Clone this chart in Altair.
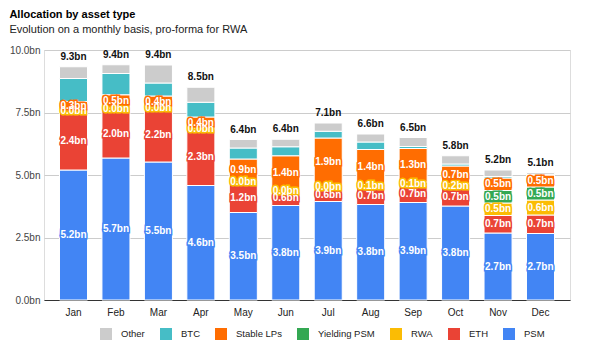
import altair as alt
import pandas as pd

months = ["Jan", "Feb", "Mar", "Apr", "May", "Jun", "Jul", "Aug", "Sep", "Oct", "Nov", "Dec"]

psm = [5.20, 5.68, 5.52, 4.58, 3.50, 3.78, 3.94, 3.82, 3.90, 3.76, 2.68, 2.66]
eth = [2.36, 1.96, 2.16, 2.26, 1.20, 0.58, 0.56, 0.70, 0.70, 0.70, 0.70, 0.74]
rwa = [0.04, 0.04, 0.04, 0.04, 0.04, 0.03, 0.04, 0.10, 0.12, 0.20, 0.50, 0.60]
yielding_psm = [0, 0, 0, 0, 0, 0, 0, 0, 0, 0, 0.50, 0.52]
stable_lps = [0.34, 0.53, 0.44, 0.44, 0.90, 1.38, 1.94, 1.40, 1.34, 0.70, 0.50, 0.48]
btc = [0.92, 0.85, 0.52, 0.59, 0.44, 0.36, 0.27, 0.30, 0.08, 0.08, 0.06, 0.03]
other = [0.47, 0.35, 0.72, 0.60, 0.34, 0.30, 0.33, 0.32, 0.36, 0.33, 0.26, 0.07]

stack_series = ["PSM", "ETH", "RWA", "Yielding PSM", "Stable LPs", "BTC", "Other"]
legend_order = ["Other", "BTC", "Stable LPs", "Yielding PSM", "RWA", "ETH", "PSM"]
colors = ["#CCCCCC", "#46BDC6", "#FF6D01", "#34A853", "#FBBC04", "#EA4335", "#4285F4"]
labelled = ["PSM", "ETH", "RWA", "Yielding PSM", "Stable LPs"]

series_values = [psm, eth, rwa, yielding_psm, stable_lps, btc, other]
rows = []
for k, (name, vals) in enumerate(zip(stack_series, series_values)):
    for m, v in zip(months, vals):
        rows.append({"month": m, "series": name, "value": v, "order": k})
df = pd.DataFrame(rows)

FONT = "Liberation Sans"
color_scale = alt.Scale(domain=legend_order, range=colors)

base = alt.Chart(df).transform_stack(
    stack="value", groupby=["month"], as_=["y0", "y1"],
    sort=[alt.SortField("order", order="ascending")]
)

x_enc = alt.X("month:N", sort=months,
              scale=alt.Scale(paddingInner=0.34, paddingOuter=0.365),
              axis=alt.Axis(title=None, labelAngle=0, ticks=False, domain=True,
                            domainColor="#333333", domainWidth=1, labelFontSize=10,
                            labelColor="#222222", labelPadding=7, labelFont=FONT, grid=False))
y_scale = alt.Scale(domain=[0, 10], nice=False)

bars = base.mark_bar(stroke="white", strokeWidth=1).encode(
    x=x_enc,
    y=alt.Y("y0:Q", scale=y_scale,
            axis=alt.Axis(title=None, values=[0, 2.5, 5, 7.5, 10],
                          labelExpr="format(datum.value, '.1f') + 'bn'",
                          ticks=False, domain=False, grid=True, gridColor="#CCCCCC",
                          labelFontSize=10, labelColor="#444444", labelPadding=4,
                          labelFont=FONT)),
    y2="y1:Q",
    color=alt.Color("series:N", scale=color_scale,
                    legend=alt.Legend(title=None, orient="none", direction="horizontal",
                                      legendX=56, legendY=278, symbolType="square",
                                      symbolSize=144, symbolStrokeWidth=0,
                                      labelFontSize=9.5, labelFont=FONT, labelColor="#222222",
                                      columnPadding=15, labelOffset=9, padding=0,
                                      values=legend_order)),
)

lab_base = base.transform_filter(
    alt.FieldOneOfPredicate(field="series", oneOf=labelled)
).transform_filter("datum.value > 0").transform_calculate(
    mid="(datum.y0 + datum.y1) / 2",
    label="format(datum.value, '.1f') + 'bn'"
)

halo = lab_base.mark_text(fontSize=10, fontWeight="bold", font=FONT, strokeWidth=3,
                          baseline="middle").encode(
    x=alt.X("month:N", sort=months),
    y=alt.Y("mid:Q"),
    text="label:N",
    stroke=alt.Stroke("series:N", scale=color_scale, legend=None),
    fill=alt.Fill("series:N", scale=color_scale, legend=None),
)

labels = lab_base.mark_text(fontSize=10, fontWeight="bold", font=FONT, color="white",
                            baseline="middle").encode(
    x=alt.X("month:N", sort=months),
    y=alt.Y("mid:Q"),
    text="label:N",
)

totals = alt.Chart(df).transform_aggregate(
    total="sum(value)", groupby=["month"]
).transform_calculate(
    label="format(datum.total, '.1f') + 'bn'"
).mark_text(fontSize=10, fontWeight="bold", font=FONT, color="#111111",
            baseline="bottom", dy=-5).encode(
    x=alt.X("month:N", sort=months),
    y=alt.Y("total:Q"),
    text="label:N",
)

chart = alt.layer(bars, halo, labels, totals).resolve_scale(
    stroke="independent", fill="independent"
).properties(
    width=526, height=250,
    autosize=alt.AutoSizeParams(type="none"),
    padding={"left": 44, "top": 50, "right": 19, "bottom": 55},
    title=alt.TitleParams(text="Allocation by asset type",
                          subtitle="Evolution on a monthly basis, pro-forma for RWA",
                          anchor="start", dx=0, fontSize=11, subtitleFontSize=11,
                          font=FONT, subtitleFont=FONT, fontWeight="bold",
                          color="#000000", subtitleColor="#222222",
                          offset=10, subtitlePadding=4),
).configure_view(stroke=None).configure(background="white")

chart.save("out.html", embed_options={"renderer": "svg", "actions": False})
